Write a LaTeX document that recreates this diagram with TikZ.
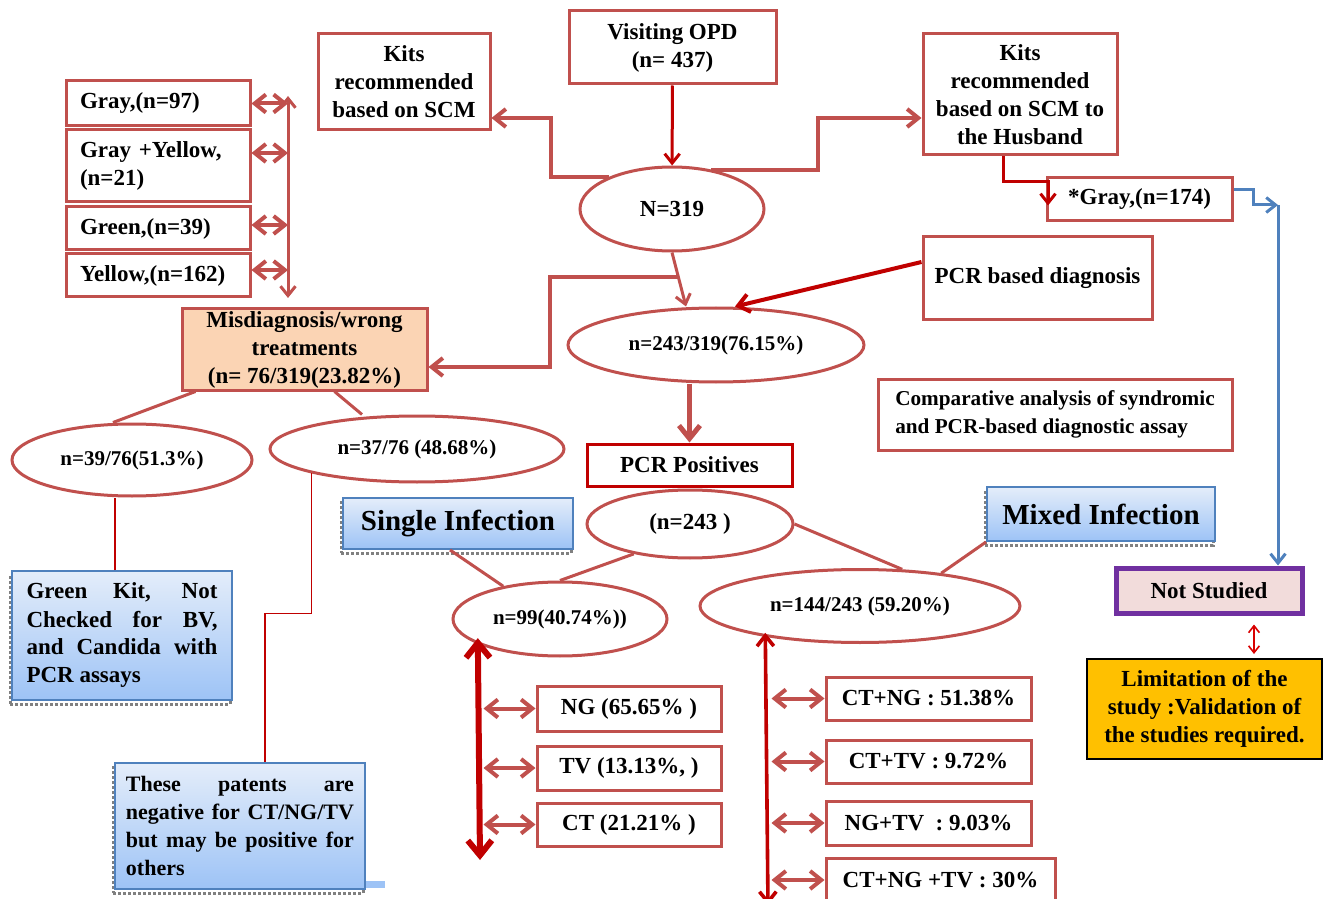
\documentclass[tikz,border=0pt]{standalone}
\usepackage{fontspec}
\setmainfont{Liberation Serif}
\usetikzlibrary{shapes,shadows,arrows.meta}
\definecolor{boxred}{HTML}{C0504D}
\definecolor{deepred}{HTML}{C00000}
\definecolor{lineblue}{HTML}{4F81BD}
\definecolor{peach}{HTML}{FBD4B4}
\definecolor{rosefill}{HTML}{F2DCDB}
\definecolor{amber}{HTML}{FFC000}
\definecolor{plum}{HTML}{7030A0}
\definecolor{gradtop}{HTML}{E4EDFA}
\definecolor{gradbot}{HTML}{9DC3F6}

\begin{document}
\hyphenpenalty=10000
\tolerance=9999
\begin{tikzpicture}[x=0.5pt,y=-0.5pt,>={Straight Barb[length=2pt 1.8,width=3pt 3]}]
\tikzstyle{every node}=[font=\bfseries\fontsize{11.5}{14}\selectfont]
\tikzstyle{kitbox}=[rectangle, draw=boxred, line width=1.5pt, fill=white, inner sep=0pt, align=center]
\tikzstyle{kitlist}=[kitbox, minimum width=92pt, text width=78pt, align=left]
\tikzstyle{oval}=[ellipse, draw=boxred, line width=1.5pt, fill=white, inner sep=0pt]
\tikzstyle{pct}=[font=\bfseries\fontsize{10.5}{12}\selectfont]
\tikzstyle{blueinfo}=[rectangle, draw=lineblue, line width=1pt, top color=gradtop, bottom color=gradbot, inner sep=0pt,
  general shadow={draw=gray, densely dotted, line width=1.5pt, fill=none, shadow xshift=-1pt, shadow yshift=-2pt}]
\tikzstyle{bigtext}=[font=\bfseries\fontsize{14.5}{16}\selectfont]
\tikzstyle{link}=[draw=boxred, line width=1.5pt]
\tikzstyle{dbl}=[boxred, line width=2pt, <->]
\clip (0,0) rectangle (1330,899);

\node[kitbox, minimum width=103.5pt, minimum height=36.5pt] (opd) at (672.5,47.5) {Visiting OPD\\(n= 437)};
\node[kitbox, minimum width=86pt, minimum height=48pt] (kitsL) at (404,82) {Kits\\recommended\\based on SCM};
\node[kitbox, minimum width=97pt, minimum height=60.5pt] (kitsR) at (1020,94.5) {Kits\\recommended\\based on SCM to\\the Husband};
\node[kitbox, minimum width=92.5pt, minimum height=21.5pt] (gray174) at (1139.5,199.5) {*Gray,(n=174)};
\node[oval, minimum width=92pt, minimum height=42pt] (n319) at (672,209) {N=319};
\node[kitlist, minimum height=22.5pt] (g97) at (158,103.5) {Gray,(n=97)};
\node[kitlist, minimum height=36pt] (gy21) at (158,166) {Gray +Yellow,\\(n=21)};
\node[kitlist, minimum height=21.5pt] (g39) at (158,228.5) {Green,(n=39)};
\node[kitlist, minimum height=21.5pt] (y162) at (158,275.5) {Yellow,(n=162)};
\node[kitbox, minimum width=114.5pt, minimum height=41.5pt] (pcrdiag) at (1037.5,278.5) {PCR based diagnosis};
\node[oval, pct, minimum width=148pt, minimum height=37pt] (n243of319) at (716,345) {n=243/319(76.15\%)};
\node[kitbox, fill=peach, minimum width=122.5pt, minimum height=40.5pt] (mis) at (304.5,349.5) {Misdiagnosis/wrong\\treatments\\(n= 76/319(23.82\%)};
\node[kitbox, font=\bfseries\fontsize{10.6}{14}\selectfont, minimum width=177pt, minimum height=35.5pt, align=left] (comp) at (1055,414.5) {Comparative analysis of syndromic\\and PCR-based diagnostic assay};
\node[kitbox, draw=deepred, minimum width=102.5pt, minimum height=21pt] (pcrpos) at (689.5,465) {PCR Positives};
\node[oval, minimum width=103pt, minimum height=34pt] (n243) at (690,524) {(n=243 )};
\node[blueinfo, bigtext, minimum width=115pt, minimum height=25.5pt] (single) at (458,523.5) {Single Infection};
\node[blueinfo, bigtext, minimum width=114pt, minimum height=27pt] (mixed) at (1101,514) {Mixed Infection};
\node[oval, pct, minimum width=107pt, minimum height=37pt] (n99) at (560,619) {n=99(40.74\%))};
\node[oval, pct, minimum width=160pt, minimum height=36.5pt] (n144) at (860,606) {n=144/243 (59.20\%)};
\node[kitbox, draw=plum, line width=2.5pt, fill=rosefill, minimum width=93pt, minimum height=22.5pt] (notst) at (1209,590.5) {Not Studied};
\node[kitbox, draw=black, line width=1pt, fill=amber, minimum width=117.5pt, minimum height=50pt] (limit) at (1204.5,709) {Limitation of the\\study :Validation of\\the studies required.};
\node[oval, pct, minimum width=120pt, minimum height=36pt] (n39) at (132,460) {n=39/76(51.3\%)};
\node[oval, pct, minimum width=147pt, minimum height=33pt] (n37) at (417,449) {n=37/76 (48.68\%)};
\node[blueinfo, minimum width=110pt, minimum height=64.5pt, text width=95.5pt, align=justify] (gk) at (122,635.5) {Green Kit, Not Checked for BV, and Candida with PCR assays};
\node[blueinfo, font=\bfseries\fontsize{11}{14}\selectfont, minimum width=125pt, minimum height=63pt, text width=114pt, align=justify] (patents) at (240,826) {These patents are negative for CT/NG/TV but may be positive for others};
\fill[gradbot] ([yshift=1pt]patents.south east) rectangle ++(19,-7);
\node[kitbox, minimum width=92pt, minimum height=22.5pt] (ng) at (629,708.5) {NG (65.65\% )};
\node[kitbox, minimum width=92pt, minimum height=22pt] (tv) at (629,768) {TV (13.13\%, )};
\node[kitbox, minimum width=92pt, minimum height=21.5pt] (ct) at (629,824.5) {CT (21.21\% )};
\node[kitbox, minimum width=102.5pt, minimum height=21.5pt] (ctng) at (928.5,698.5) {CT+NG : 51.38\%};
\node[kitbox, minimum width=102.5pt, minimum height=21.5pt] (cttv) at (928.5,761.5) {CT+TV : 9.72\%};
\node[kitbox, minimum width=102.5pt, minimum height=22pt] (ngtv) at (928.5,823) {NG+TV \ : 9.03\%};
\node[kitbox, minimum width=114.5pt, minimum height=22pt] (ctngtv) at (940.5,880) {CT+NG +TV : 30\%};

\draw[deepred, line width=1.5pt, ->] (opd) -- (n319);
\draw[boxred, line width=2pt, ->] (n319.153) -- ++(-58,0) |- ([yshift=-18pt]kitsL.east);
\draw[boxred, line width=2pt, ->] (n319.45) -- ++(107,0) |- ([yshift=-11.75pt]kitsR.west);
\draw[deepred, line width=1.5pt, ->] ([xshift=-8.5pt]kitsR.south) -- ++(0,25) -- ++(45,0) -- ++(0,24);
\coordinate (blueturn) at (1278,205);
\draw[lineblue, line width=1.5pt, ->] ([yshift=4.75pt]gray174.east) -- ++(20,0) -- ++(0,15) -- (blueturn);
\draw[lineblue, line width=1.5pt, ->] (blueturn) -- (blueturn |- notst.north);
\draw[boxred, line width=1.5pt, ->] (n319.south) -- coordinate[pos=0.45] (split) ([xshift=-15pt]n243of319.north);
\draw[boxred, line width=2pt, ->] (split) -- ++(-128,0) |- ([yshift=-8.75pt]mis.east);
\draw[deepred, line width=2pt, ->] ([yshift=8.25pt]pcrdiag.west) -- ([xshift=9.5pt]n243of319.north);
\draw[boxred, line width=2.5pt, ->] (pcrpos.north |- n243of319.south) -- (pcrpos.north);
\draw[link] ([xshift=7.5pt]mis.south west) -- ([xshift=-9.5pt]n39.north);
\draw[link] ([xshift=15pt]mis.south) -- ([xshift=-27.5pt]n37.north);
\draw[deepred, line width=0.8pt] ([xshift=-3.5pt]gk.north) -- ([xshift=-3.5pt]gk.north |- n39.south);
\draw[deepred, line width=0.8pt] (n37.193) -- ++(0,140) -| ([xshift=12.5pt]patents.north);
\draw[link] (n243.208) -- (n99.north);
\draw[link] (n243.east) -- (n144.41);
\draw[link] ([xshift=-4pt]single.south) -- (n99.150);
\draw[link] (mixed.south west) -- (n144.22);
\coordinate (sbot) at (480,860);
\draw[deepred, line width=3pt, <->] ([yshift=3pt]n99.197) -- (sbot);
\coordinate (mbot) at (768,905);
\draw[deepred, line width=1.8pt, <->] ([yshift=2pt]n144.198) -- (mbot);
\foreach \b in {ng,tv,ct} \draw[dbl] (\b.west) -- ++(-52,0);
\foreach \b in {ctng,cttv,ngtv,ctngtv} \draw[dbl] (\b.west) -- ++(-53,0);
\coordinate (ltop) at (288,96);
\coordinate (lbot) at (288,298);
\draw[boxred, line width=1.5pt, <->] (ltop) -- (lbot);
\foreach \b/\s in {g97/0pt,gy21/6.5pt,g39/1.75pt,y162/2.75pt}
  \draw[dbl] ([yshift=\s]\b.east) -- ([yshift=\s]\b.east -| ltop);
\draw[red!85!black, line width=0.8pt, <->] ([xshift=22.5pt,yshift=-4.5pt]notst.south) -- ([xshift=22.5pt,yshift=2pt]notst.south |- limit.north);
\end{tikzpicture}
\end{document}
